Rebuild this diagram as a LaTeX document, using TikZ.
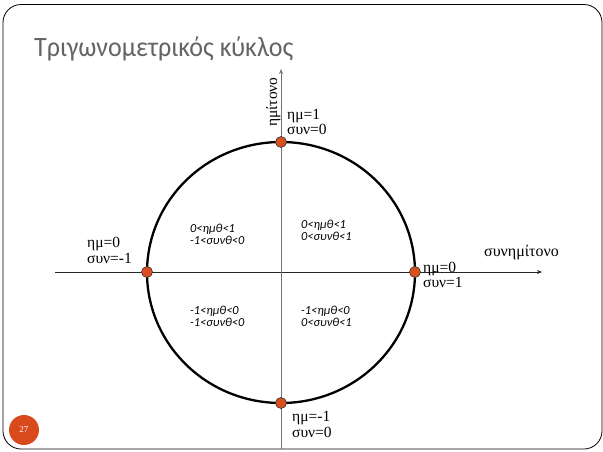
\documentclass[tikz,border=0pt]{standalone}
\usepackage{fontspec}
\setmainfont{Liberation Serif}
\newfontfamily\titlefont{Carlito}
\usetikzlibrary{arrows.meta}
\definecolor{dotred}{HTML}{D9501E}
\definecolor{pgred}{HTML}{D84A1B}
\definecolor{titlegray}{HTML}{646464}
\begin{document}
\begin{tikzpicture}[x=1pt,y=-1pt,
  lbl/.style={font=\fontsize{15.5}{16}\selectfont, inner sep=0pt, anchor=base west},
  quad/.style={font=\titlefont\itshape\fontsize{12.3}{13}\selectfont, inner sep=0pt, anchor=base west},
  pt/.style={circle, fill=dotred, draw=black!80, line width=0.6pt, minimum size=11pt, inner sep=0pt}]
\useasboundingbox (0,0) rectangle (603,451);
\draw[line width=0.8pt, rounded corners=18pt] (3,4.5) rectangle (602,449);
\node[anchor=base west, inner sep=0pt, text=titlegray, font=\titlefont\fontsize{28}{34}\selectfont] (title) at (34,56) {\scalebox{0.93}[1]{Τριγωνομετρικός κύκλος}};
% axes
\coordinate (xl) at (55,272);
\coordinate (xr) at (542,272);
\coordinate (yb) at (281,449);
\coordinate (yt) at (281,69);
\draw[line width=0.9pt, black!85, -{Stealth[length=5pt,width=4pt]}] (xl) -- (xr);
\draw[line width=0.9pt, black!55, -{Stealth[length=5pt,width=4pt]}] (yb) -- (yt);
% circle
\coordinate (c) at (281,272.5);
\draw[line width=2.3pt] (c) ellipse [x radius=134, y radius=130.5];
\node[pt] (top) at (281,142) {};
\node[pt] (bot) at (281,403) {};
\node[pt] (lft) at (147,272) {};
\node[pt] (rgt) at (415,272) {};
% labels
\node[lbl] (ltopa) at (287,119) {ημ=1};
\node[lbl] (ltopb) at (287,134.5) {συν=0};
\node[lbl] (llfta) at (87,247) {ημ=0};
\node[lbl] (llftb) at (87,263) {συν=-1};
\node[lbl] (lrgta) at (423,272) {ημ=0};
\node[lbl] (lrgtb) at (423,287.5) {συν=1};
\node[lbl] (lbota) at (292,421) {ημ=-1};
\node[lbl] (lbotb) at (292,437) {συν=0};
\node[lbl, font=\fontsize{16}{16}\selectfont] (cosl) at (484,256) {συνημίτονο};
\node[font=\fontsize{15.5}{16}\selectfont, rotate=90, anchor=base, inner sep=0pt] (sinl) at (277,102) {ημίτονο};
% quadrant labels
\node[quad] (q2a) at (190,232) {0<ημθ<1};
\node[quad] (q2b) at (190,244) {-1<συνθ<0};
\node[quad] (q1a) at (301,228) {0<ημθ<1};
\node[quad] (q1b) at (301,240) {0<συνθ<1};
\node[quad] (q3a) at (190,314) {-1<ημθ<0};
\node[quad] (q3b) at (190,326.5) {-1<συνθ<0};
\node[quad] (q4a) at (301,314) {-1<ημθ<0};
\node[quad] (q4b) at (301,326.5) {0<συνθ<1};
% page number
\node[circle, fill=pgred, minimum size=30pt, inner sep=0pt, text=white, font=\fontsize{9}{11}\selectfont] (pg) at (24,430) {27};
\end{tikzpicture}
\end{document}
